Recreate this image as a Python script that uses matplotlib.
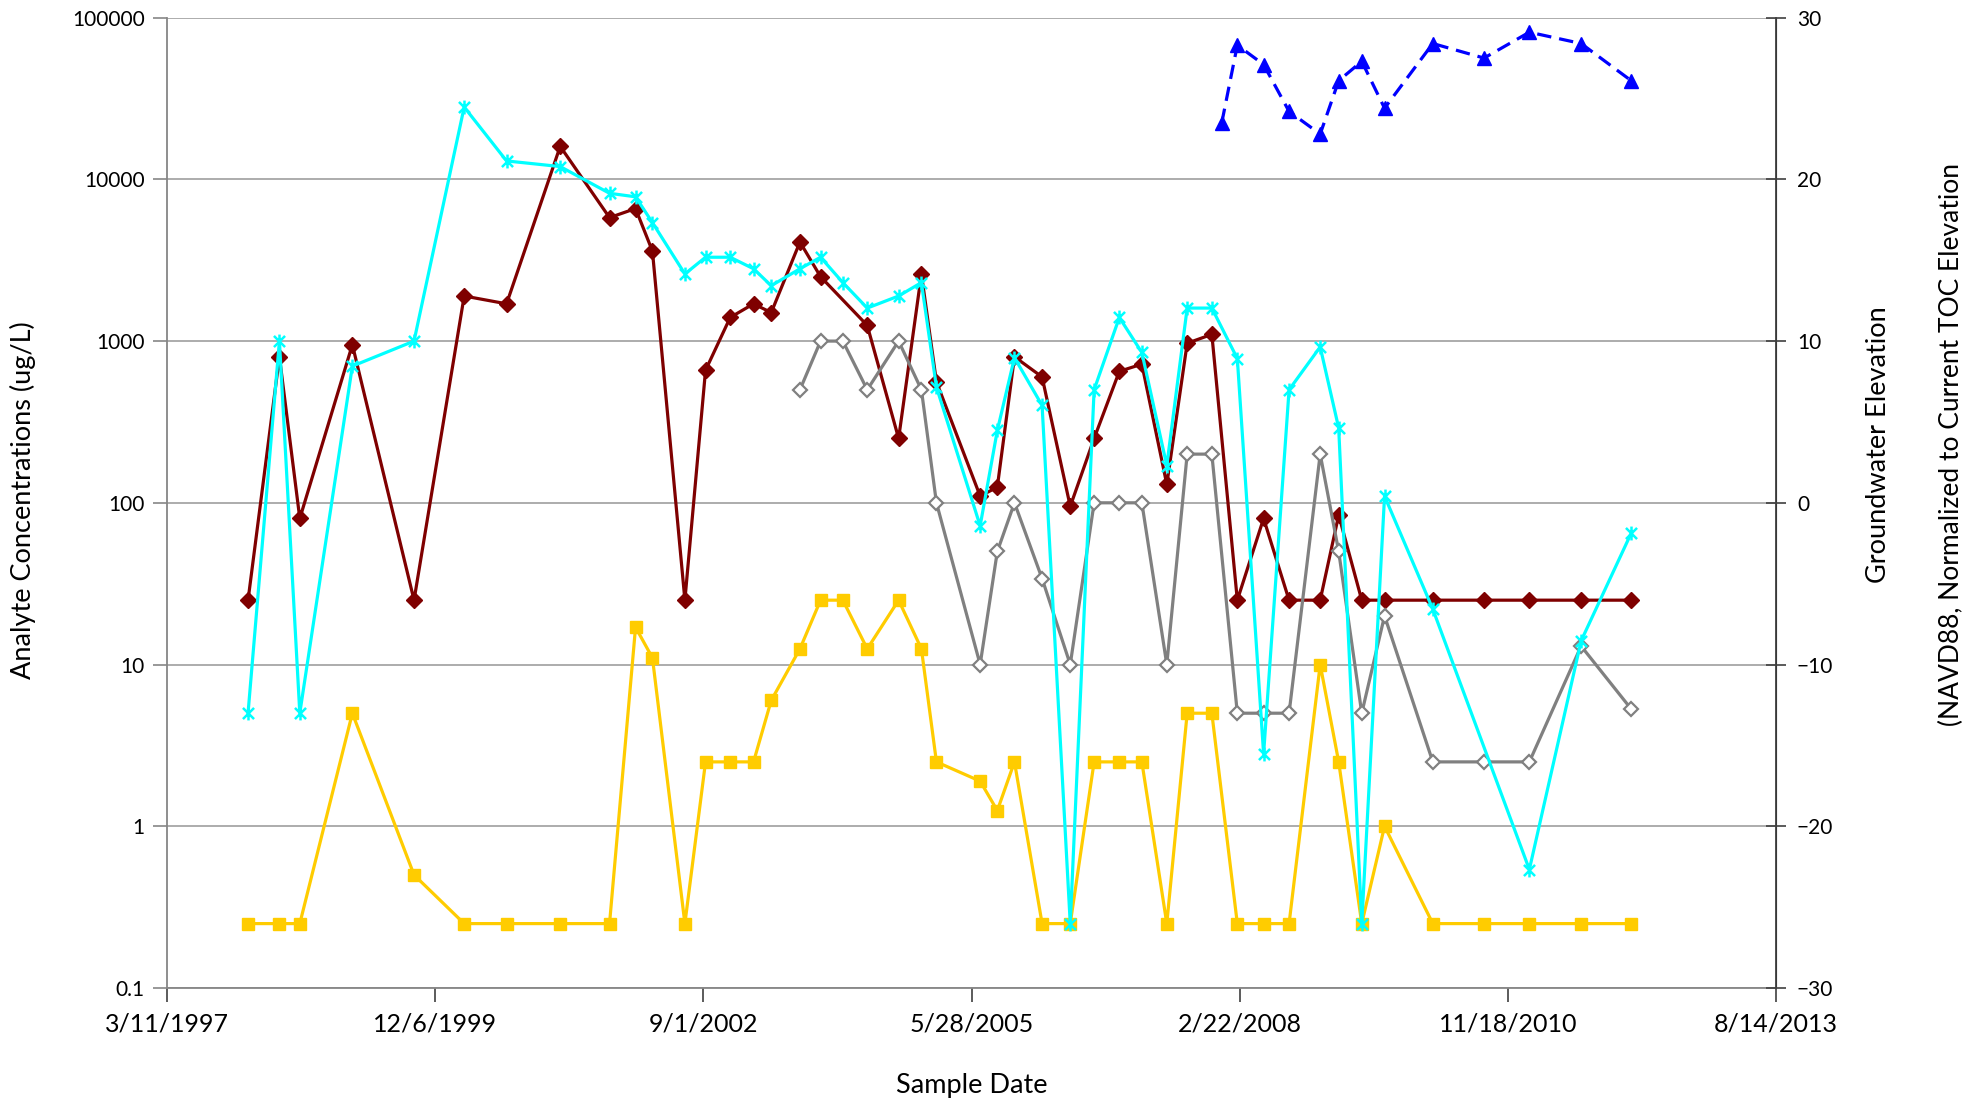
import numpy as np
import pandas as pd
import matplotlib
matplotlib.use("Agg")
import matplotlib.pyplot as plt
import matplotlib.dates as mdates
from matplotlib.path import Path
from matplotlib.ticker import FixedLocator, FuncFormatter, NullLocator

plt.rcParams['font.family'] = ['Lato', 'DejaVu Sans']

# analyte 1 (dark red, filled diamonds)
dates_a = ['1998-01-07', '1998-05-04', '1998-07-19', '1999-01-31', '1999-09-18', '2000-03-23',
           '2000-08-28', '2001-03-16', '2001-09-16', '2001-12-22', '2002-02-23', '2002-06-24',
           '2002-09-09', '2002-12-10', '2003-03-07', '2003-05-12', '2003-08-27', '2003-11-12',
           '2004-05-04', '2004-08-29', '2004-11-22', '2005-01-17', '2005-06-29', '2005-09-01',
           '2005-11-04', '2006-02-15', '2006-05-31', '2006-08-28', '2006-11-30', '2007-02-22',
           '2007-05-26', '2007-08-10', '2007-11-10', '2008-02-13', '2008-05-21', '2008-08-24',
           '2008-12-18', '2009-02-25', '2009-05-22', '2009-08-15', '2010-02-11', '2010-08-21',
           '2011-02-06', '2011-08-18', '2012-02-21']
vals_a = [25, 800, 80, 950, 25, 1900,
          1700, 16000, 5800, 6600, 3600, 25,
          660, 1400, 1700, 1500, 4100, 2500,
          1250, 250, 2600, 560, 110, 125,
          800, 600, 95, 250, 650, 720,
          130, 970, 1100, 25, 80, 25,
          25, 84, 25, 25, 25, 25,
          25, 25, 25]

# analyte 2 (cyan, star markers)
dates_b = ['1998-01-07', '1998-05-04', '1998-07-19', '1999-01-31', '1999-09-18', '2000-03-23',
           '2000-08-28', '2001-03-16', '2001-09-16', '2001-12-22', '2002-02-23', '2002-06-24',
           '2002-09-09', '2002-12-10', '2003-03-07', '2003-05-12', '2003-08-27', '2003-11-12',
           '2004-02-03', '2004-05-04', '2004-08-29', '2004-11-22', '2005-01-17', '2005-06-29',
           '2005-09-01', '2005-11-04', '2006-02-15', '2006-05-31', '2006-08-28', '2006-11-30',
           '2007-02-22', '2007-05-26', '2007-08-10', '2007-11-10', '2008-02-13', '2008-05-21',
           '2008-08-24', '2008-12-18', '2009-02-25', '2009-05-22', '2009-08-15', '2010-02-11',
           '2011-02-06', '2011-08-18', '2012-02-21']
vals_b = [5, 1000, 5, 700, 1000, 28000,
          13000, 12000, 8200, 7800, 5400, 2600,
          3300, 3300, 2800, 2200, 2800, 3300,
          2300, 1600, 1900, 2300, 520, 72,
          280, 790, 400, 0.25, 500, 1400,
          850, 170, 1600, 1600, 780, 2.8,
          500, 920, 290, 0.25, 110, 22,
          0.54, 14, 65]

# analyte 3 (gray, open diamonds)
dates_c = ['2003-08-27', '2003-11-12', '2004-02-03', '2004-05-04', '2004-08-29', '2004-11-22',
           '2005-01-17', '2005-06-29', '2005-09-01', '2005-11-04', '2006-02-15', '2006-05-31',
           '2006-08-28', '2006-11-30', '2007-02-22', '2007-05-26', '2007-08-10', '2007-11-10',
           '2008-02-13', '2008-05-21', '2008-08-24', '2008-12-18', '2009-02-25', '2009-05-22',
           '2009-08-15', '2010-02-11', '2010-08-21', '2011-02-06', '2011-08-18', '2012-02-21']
vals_c = [500, 1000, 1000, 500, 1000, 500,
          100, 10, 50, 100, 34, 10,
          100, 100, 100, 10, 200, 200,
          5, 5, 5, 200, 50, 5,
          20, 2.5, 2.5, 2.5, 13, 5.3]

# analyte 4 (gold, squares)
dates_d = ['1998-01-07', '1998-05-04', '1998-07-19', '1999-01-31', '1999-09-18', '2000-03-23',
           '2000-08-28', '2001-03-16', '2001-09-16', '2001-12-22', '2002-02-23', '2002-06-24',
           '2002-09-09', '2002-12-10', '2003-03-07', '2003-05-12', '2003-08-27', '2003-11-12',
           '2004-02-03', '2004-05-04', '2004-08-29', '2004-11-22', '2005-01-17', '2005-06-29',
           '2005-09-01', '2005-11-04', '2006-02-15', '2006-05-31', '2006-08-28', '2006-11-30',
           '2007-02-22', '2007-05-26', '2007-08-10', '2007-11-10', '2008-02-13', '2008-05-21',
           '2008-08-24', '2008-12-18', '2009-02-25', '2009-05-22', '2009-08-15', '2010-02-11',
           '2010-08-21', '2011-02-06', '2011-08-18', '2012-02-21']
vals_d = [0.25, 0.25, 0.25, 5, 0.5, 0.25,
          0.25, 0.25, 0.25, 17, 11, 0.25,
          2.5, 2.5, 2.5, 6, 12.5, 25,
          25, 12.5, 25, 12.5, 2.5, 1.9,
          1.25, 2.5, 0.25, 0.25, 2.5, 2.5,
          2.5, 0.25, 5, 5, 0.25, 0.25,
          0.25, 10, 2.5, 0.25, 1, 0.25,
          0.25, 0.25, 0.25, 0.25]

# groundwater elevation (right axis)
dates_gw = ['2007-12-17', '2008-02-13', '2008-05-21', '2008-08-24', '2008-12-18', '2009-02-25',
            '2009-05-22', '2009-08-15', '2010-02-11', '2010-08-21', '2011-02-06', '2011-08-18',
            '2012-02-21']
vals_gw = [23.5, 28.3, 27.1, 24.2, 22.8, 26.1,
           27.3, 24.4, 28.4, 27.5, 29.1, 28.4,
           26.1]

left_ticks = [0.1, 1, 10, 100, 1000, 10000, 100000]
right_ticks = [-30, -20, -10, 0, 10, 20, 30]

# excel style star: x plus vertical bar
star = Path([(0, -1), (0, 1), (-0.8, -0.8), (0.8, 0.8), (-0.8, 0.8), (0.8, -0.8)],
            [Path.MOVETO, Path.LINETO, Path.MOVETO, Path.LINETO, Path.MOVETO, Path.LINETO])

fig = plt.figure(figsize=(19.84, 11.03), dpi=100)
ax = fig.add_axes([0.0842, 0.1043, 0.8110, 0.8797])
ax2 = ax.twinx()

ax.plot(pd.to_datetime(dates_a), vals_a, color='#7F0000', lw=2.3, marker='D', ms=8, zorder=3)
ax.plot(pd.to_datetime(dates_c), vals_c, color='#808080', lw=2.3, marker='D', ms=7,
        mfc='white', mec='#808080', mew=1.6, zorder=3)
ax.plot(pd.to_datetime(dates_d), vals_d, color='#FFCC00', lw=2.3, marker='s', ms=9, zorder=3)
ax.plot(pd.to_datetime(dates_b), vals_b, color='#00FFFF', lw=2.3, marker=star, ms=10,
        mec='#00FFFF', mew=1.8, zorder=4)
ax2.plot(pd.to_datetime(dates_gw), vals_gw, color='#0000FF', lw=2.3, ls=(0, (4.5, 2.5)),
         marker='^', ms=10)

ax.set_yscale('log')
ax.set_ylim(0.1, 100000)
ax.yaxis.set_major_locator(FixedLocator(left_ticks))
ax.yaxis.set_minor_locator(NullLocator())
ax.yaxis.set_major_formatter(FuncFormatter(lambda v, p: '%g' % v))

x0 = pd.Timestamp('1997-03-11')
xt = [x0 + pd.Timedelta(days=1000 * i) for i in range(7)]
ax.set_xlim(xt[0], xt[-1])
ax.xaxis.set_major_locator(FixedLocator(mdates.date2num(xt)))
ax.xaxis.set_minor_locator(NullLocator())
def fmt_date(v, p):
    d = mdates.num2date(v)
    return f"{d.month}/{d.day}/{d.year}"
ax.xaxis.set_major_formatter(FuncFormatter(fmt_date))

ax2.set_ylim(-30, 30)
ax2.yaxis.set_major_locator(FixedLocator(right_ticks))

ax.yaxis.grid(True, color='#A6A6A6', lw=1.3)
ax.set_axisbelow(True)

for s in ['top']:
    ax.spines[s].set_visible(False)
    ax2.spines[s].set_visible(False)
ax.spines['left'].set_color('#868686')
ax.spines['bottom'].set_color('#868686')
ax.spines['left'].set_linewidth(1.3)
ax.spines['bottom'].set_linewidth(1.3)
ax2.spines['left'].set_visible(False)
ax2.spines['bottom'].set_visible(False)
ax2.spines['right'].set_color('#404040')
ax2.spines['right'].set_linewidth(1.3)

ax.tick_params(axis='y', length=10, width=1.2, color='#868686', labelsize=15, pad=6)
ax.tick_params(axis='x', length=10, width=1.2, color='#404040', labelsize=18, pad=8)
ax2.tick_params(axis='y', direction='inout', length=14, width=1.2, color='#404040',
                labelsize=15, pad=8)

fig.text(0.0116, 0.547, 'Analyte Concentrations (ug/L)', rotation=90, ha='center',
         va='center', fontsize=19.5)
fig.text(0.490, 0.0155, 'Sample Date', ha='center', va='center', fontsize=19.5)
fig.text(0.9466, 0.5966, 'Groundwater Elevation', rotation=90, ha='center', va='center',
         fontsize=19.5)
fig.text(0.9834, 0.5966, '(NAVD88, Normalized to Current TOC Elevation', rotation=90,
         ha='center', va='center', fontsize=19)

fig.savefig('out.png', dpi=100)
